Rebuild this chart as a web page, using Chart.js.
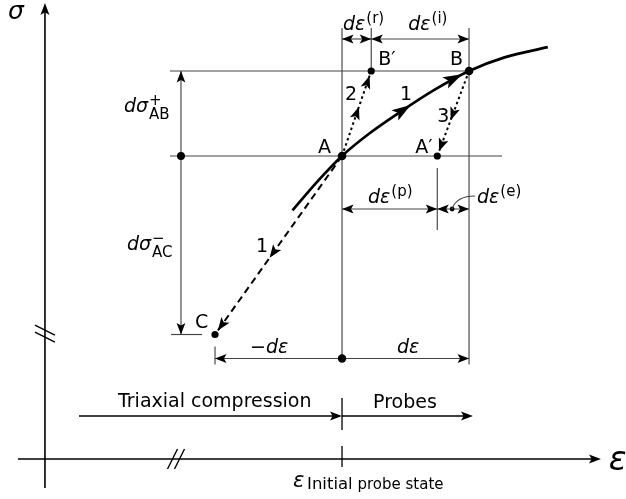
<!DOCTYPE html>
<html>
<head>
<meta charset="utf-8">
<title>Incremental probes from an initial state</title>
<script src="https://cdn.jsdelivr.net/npm/chart.js@4.4.1/dist/chart.umd.min.js"></script>
<style>
  html, body { margin: 0; padding: 0; background: #fff; }
  canvas { display: block; }
</style>
</head>
<body>
<canvas id="chart" width="626" height="499"></canvas>
<script>
// Strain is measured in probe increments dε (A at 0, B at 1),
// stress in units of dσ⁺_AB (A at 0, B at 1).

// Triaxial compression loading curve through A and B
const curveStrain = [-0.39, -0.20, 0, 0.22, 0.46, 0.73, 1, 1.28, 1.62];
const curveStress = [-0.64, -0.31, 0, 0.27, 0.52, 0.78, 1, 1.16, 1.28];

// Probe states
const stateNames  = ['A', 'B', 'B′', 'A′', 'C'];
const stateStrain = [0, 1, 0.23, 0.75, -1];
const stateStress = [0, 1, 1, 0, -2.1];

// Straight probe paths: start state, end state, path number
const pathFrom  = ['A', 'A', 'B'];
const pathTo    = ['C', 'B′', 'A′'];
const pathNames = ['1', '2', '3'];

// Visible window of the diagram
const strainRange = [-2.693, 2.236];
const stressRange = [-4.035, 1.835];

const FONT = '"DejaVu Sans", "Liberation Sans", sans-serif';
const GUIDE = '#444444';

const stateAt = name => {
  const i = stateNames.indexOf(name);
  return { x: stateStrain[i], y: stateStress[i] };
};

function seg(ctx, x1, y1, x2, y2) {
  ctx.beginPath();
  ctx.moveTo(x1, y1);
  ctx.lineTo(x2, y2);
  ctx.stroke();
}

function arrowHead(ctx, x, y, ang, len, hw) {
  ctx.save();
  ctx.translate(x, y);
  ctx.rotate(ang);
  ctx.beginPath();
  ctx.moveTo(0, 0);
  ctx.lineTo(-len, -hw);
  ctx.lineTo(-len * 0.78, 0);
  ctx.lineTo(-len, hw);
  ctx.closePath();
  ctx.fill();
  ctx.restore();
}

function dimension(ctx, x1, y1, x2, y2, h1, h2) {
  ctx.strokeStyle = GUIDE;
  ctx.lineWidth = 1.15;
  seg(ctx, x1, y1, x2, y2);
  const a = Math.atan2(y2 - y1, x2 - x1);
  ctx.fillStyle = '#000';
  if (h2) arrowHead(ctx, x2, y2, a, 11.5, 4.4);
  if (h1) arrowHead(ctx, x1, y1, a + Math.PI, 11.5, 4.4);
}

function dot(ctx, x, y, r) {
  ctx.beginPath();
  ctx.arc(x, y, r, 0, Math.PI * 2);
  ctx.fill();
}

// Text with italic symbols and stacked super/subscripts
function rich(ctx, x, y, items) {
  let cx = x;
  for (const it of items) {
    if (it.s !== undefined || it.b !== undefined) {
      ctx.font = `15px ${FONT}`;
      let w = 0;
      if (it.s) { ctx.fillText(it.s, cx + 1, y - 7); w = Math.max(w, ctx.measureText(it.s).width + 1); }
      if (it.b) { ctx.fillText(it.b, cx + 1, y + 7); w = Math.max(w, ctx.measureText(it.b).width + 1); }
      cx += w;
    } else {
      ctx.font = `${it.i ? 'italic ' : ''}${it.z || 19}px ${FONT}`;
      ctx.fillText(it.t, cx, y);
      cx += ctx.measureText(it.t).width;
    }
  }
}

// Point and tangent on the drawn loading curve (segment i, parameter t)
function onCurve(pts, i, t) {
  const p0 = pts[i], p3 = pts[i + 1];
  const c1 = { x: p0.cp2x ?? p0.x, y: p0.cp2y ?? p0.y };
  const c2 = { x: p3.cp1x ?? p3.x, y: p3.cp1y ?? p3.y };
  const u = 1 - t;
  const x = u*u*u*p0.x + 3*u*u*t*c1.x + 3*u*t*t*c2.x + t*t*t*p3.x;
  const y = u*u*u*p0.y + 3*u*u*t*c1.y + 3*u*t*t*c2.y + t*t*t*p3.y;
  const dx = 3*u*u*(c1.x - p0.x) + 6*u*t*(c2.x - c1.x) + 3*t*t*(p3.x - c2.x);
  const dy = 3*u*u*(c1.y - p0.y) + 6*u*t*(c2.y - c1.y) + 3*t*t*(p3.y - c2.y);
  return { x, y, ang: Math.atan2(dy, dx) };
}

const diagram = {
  id: 'diagram',
  beforeDatasetsDraw(chart) {
    const ctx = chart.ctx;
    const X = v => chart.scales.x.getPixelForValue(v);
    const Y = v => chart.scales.y.getPixelForValue(v);
    const A = stateAt('A'), B = stateAt('B'), Bp = stateAt('B′'), Ap = stateAt('A′'), C = stateAt('C');
    const eA = X(A.x), eB = X(B.x), eBp = X(Bp.x), eAp = X(Ap.x), eC = X(C.x);
    const sA = Y(A.y), sB = Y(B.y), sC = Y(C.y);
    const topRow = sB - 32, plasticRow = sA + 53, bottomRow = sC + 24;
    const ax = X(-2.339), ay = Y(-3.565);
    const dimCol = X(-1.268), guideLeft = X(-1.354);

    ctx.save();
    ctx.lineCap = 'butt';

    // Axes with breaks
    ctx.strokeStyle = '#000';
    ctx.fillStyle = '#000';
    ctx.lineWidth = 1.6;
    const sigTip = Y(1.8), epsTip = X(2.039);
    seg(ctx, ax, ay + 29, ax, sigTip + 8);
    arrowHead(ctx, ax, sigTip, -Math.PI / 2, 12, 4.5);
    seg(ctx, ax - 27, ay, epsTip - 8, ay);
    arrowHead(ctx, epsTip, ay, 0, 12, 4.5);
    const by = Y(-2.09);
    ctx.lineWidth = 1.4;
    for (const k of [-3.5, 3.5]) seg(ctx, ax - 10, by + k - 5, ax + 10, by + k + 5);
    const bx = X(-1.307);
    for (const k of [-3.5, 3.5]) seg(ctx, bx + k - 5, ay + 10, bx + k + 5, ay - 10);
    ctx.lineWidth = 1.3;
    seg(ctx, eA, ay - 13, eA, ay + 8);

    // Construction lines
    ctx.strokeStyle = GUIDE;
    ctx.lineWidth = 1.15;
    seg(ctx, guideLeft, sB, eB, sB);
    seg(ctx, guideLeft, sA, X(1.26), sA);
    seg(ctx, eA, topRow - 11, eA, bottomRow);
    seg(ctx, eBp, topRow - 11, eBp, sB);
    seg(ctx, eB, topRow - 11, eB, bottomRow + 6);
    seg(ctx, eAp, sA + 12, eAp, plasticRow + 21);
    seg(ctx, X(-1.346), sC, X(-1.102), sC);
    seg(ctx, eC, sC + 12, eC, bottomRow + 6);

    // Dimension arrows
    dimension(ctx, dimCol, sA, dimCol, sB, false, true);
    dimension(ctx, dimCol, sA, dimCol, sC, false, true);
    dimension(ctx, eA, topRow, eBp, topRow, true, true);
    dimension(ctx, eBp, topRow, eB, topRow, true, true);
    dimension(ctx, eA, plasticRow, eAp, plasticRow, true, true);
    dimension(ctx, eAp, plasticRow, eB, plasticRow, true, true);
    dimension(ctx, eA, bottomRow, eC, bottomRow, false, true);
    dimension(ctx, eA, bottomRow, eB, bottomRow, false, true);

    // Loading history arrows
    const loadRow = ay - 43;
    ctx.strokeStyle = '#000';
    ctx.fillStyle = '#000';
    ctx.lineWidth = 1.5;
    seg(ctx, X(-2.071), loadRow, eA - 8, loadRow);
    arrowHead(ctx, eA, loadRow, 0, 12, 4.5);
    const probeEnd = X(1.031);
    seg(ctx, eA, loadRow, probeEnd - 8, loadRow);
    arrowHead(ctx, probeEnd, loadRow, 0, 12, 4.5);
    ctx.lineWidth = 1.3;
    seg(ctx, eA, loadRow - 18, eA, loadRow + 14);
    ctx.restore();
  },
  afterDatasetsDraw(chart) {
    const ctx = chart.ctx;
    const X = v => chart.scales.x.getPixelForValue(v);
    const Y = v => chart.scales.y.getPixelForValue(v);
    const A = stateAt('A'), B = stateAt('B'), Bp = stateAt('B′'), Ap = stateAt('A′'), C = stateAt('C');
    const eA = X(A.x), eB = X(B.x), eBp = X(Bp.x), eAp = X(Ap.x), eC = X(C.x);
    const sA = Y(A.y), sB = Y(B.y), sC = Y(C.y);
    const topRow = sB - 32, plasticRow = sA + 53, bottomRow = sC + 24;
    const ay = Y(-3.565), loadRow = ay - 43;
    const dimCol = X(-1.268);

    ctx.save();
    ctx.fillStyle = '#000';
    ctx.strokeStyle = '#000';

    // Arrowheads on the loading curve
    const pts = chart.getDatasetMeta(1).data;
    const m = onCurve(pts, 4, 0.3);
    arrowHead(ctx, m.x, m.y, m.ang, 19, 6.2);
    const e = onCurve(pts, 5, 0.8);
    arrowHead(ctx, e.x, e.y, e.ang, 19, 6.2);

    // Arrowheads on straight probe paths
    pathFrom.forEach((f, i) => {
      const p = stateAt(f), q = stateAt(pathTo[i]);
      const x1 = X(p.x), y1 = Y(p.y), x2 = X(q.x), y2 = Y(q.y);
      const ang = Math.atan2(y2 - y1, x2 - x1);
      const L = Math.hypot(x2 - x1, y2 - y1);
      const tm = i === 0 ? 0.57 : 0.58;
      arrowHead(ctx, x1 + (x2 - x1) * tm, y1 + (y2 - y1) * tm, ang, 13, 5);
      const back = 5 / L;
      arrowHead(ctx, x2 - (x2 - x1) * back, y2 - (y2 - y1) * back, ang, 13, 5);
    });

    // Dimension markers
    dot(ctx, dimCol, sA, 4);
    dot(ctx, eA, bottomRow, 4.2);
    const ex = (eAp + eB) / 2 - 1;
    dot(ctx, ex, plasticRow, 2.4);
    ctx.strokeStyle = GUIDE;
    ctx.lineWidth = 1.1;
    ctx.beginPath();
    ctx.moveTo(ex, plasticRow);
    ctx.quadraticCurveTo(ex + 4, plasticRow - 13, ex + 23, plasticRow - 13);
    ctx.stroke();

    // Labels
    ctx.fillStyle = '#000';
    ctx.textBaseline = 'alphabetic';
    ctx.textAlign = 'left';
    rich(ctx, dimCol - 57, (sA + sB) / 2 - 1, [{ t: 'dσ', i: 1 }, { s: '+', b: 'AB' }]);
    rich(ctx, dimCol - 54, (sA + sC) / 2 + 5, [{ t: 'dσ', i: 1 }, { s: '−', b: 'AC' }]);
    rich(ctx, eA + 1, topRow - 9, [{ t: 'dε', i: 1 }, { s: '(r)' }]);
    rich(ctx, eBp + 37, topRow - 9, [{ t: 'dε', i: 1 }, { s: '(i)' }]);
    rich(ctx, eA + 26, plasticRow - 6, [{ t: 'dε', i: 1 }, { s: '(p)' }]);
    rich(ctx, eB + 8, plasticRow - 6, [{ t: 'dε', i: 1 }, { s: '(e)' }]);
    rich(ctx, eC + 35, bottomRow - 6, [{ t: '−' }, { t: 'dε', i: 1 }]);
    rich(ctx, eA + 55, bottomRow - 6, [{ t: 'dε', i: 1 }]);

    rich(ctx, eBp + 7, sB - 6, [{ t: stateNames[2] }]);
    rich(ctx, eB - 19, sB - 6, [{ t: stateNames[1] }]);
    rich(ctx, eA - 24, sA - 3, [{ t: stateNames[0] }]);
    rich(ctx, eAp - 22, sA - 3, [{ t: stateNames[3] }]);
    rich(ctx, eC - 20, sC - 7, [{ t: stateNames[4] }]);

    rich(ctx, eA + 58, sA - 56, [{ t: pathNames[0] }]);
    rich(ctx, eA - 86, sA + 96, [{ t: pathNames[0] }]);
    rich(ctx, eA + 3, sA - 56, [{ t: pathNames[1] }]);
    rich(ctx, eAp + 0, sA - 34, [{ t: pathNames[2] }]);

    rich(ctx, X(-1.764), loadRow - 9, [{ t: 'Triaxial compression' }]);
    rich(ctx, eA + 31, loadRow - 8, [{ t: 'Probes' }]);

    rich(ctx, 8, 19, [{ t: 'σ', i: 1, z: 25 }]);
    rich(ctx, X(2.1), ay + 11, [{ t: 'ε', i: 1, z: 33 }]);
    rich(ctx, eA - 49, ay + 28, [{ t: 'ε', i: 1, z: 21 }]);
    rich(ctx, eA - 35, ay + 30, [{ t: 'Initial', z: 16.5 }, { t: ' probe state', z: 15 }]);
    ctx.restore();
  }
};

const pathStyles = [[7, 4.5], [2.5, 3], [2.5, 3]];

new Chart(document.getElementById('chart'), {
  type: 'scatter',
  data: {
    datasets: [
      {
        label: 'states',
        data: stateNames.map(n => stateAt(n)),
        showLine: false,
        pointRadius: [4.3, 4.3, 3.6, 3.6, 3.6],
        pointBackgroundColor: '#000',
        pointBorderWidth: 0,
        clip: false
      },
      {
        label: 'loading',
        data: curveStrain.map((x, i) => ({ x, y: curveStress[i] })),
        showLine: true,
        borderColor: '#000',
        borderWidth: 2.7,
        pointRadius: 0,
        cubicInterpolationMode: 'monotone',
        fill: false,
        clip: false
      },
      ...pathFrom.map((f, i) => ({
        label: 'path ' + pathNames[i],
        data: [stateAt(f), stateAt(pathTo[i])],
        showLine: true,
        borderColor: '#000',
        borderWidth: 2,
        borderDash: pathStyles[i],
        pointRadius: 0,
        fill: false,
        clip: false
      }))
    ]
  },
  options: {
    responsive: false,
    animation: false,
    devicePixelRatio: 1,
    layout: { padding: 0, autoPadding: false },
    plugins: { legend: { display: false }, tooltip: { enabled: false } },
    scales: {
      x: { type: 'linear', min: strainRange[0], max: strainRange[1], display: false },
      y: { type: 'linear', min: stressRange[0], max: stressRange[1], display: false }
    }
  },
  plugins: [diagram]
});
</script>
</body>
</html>
